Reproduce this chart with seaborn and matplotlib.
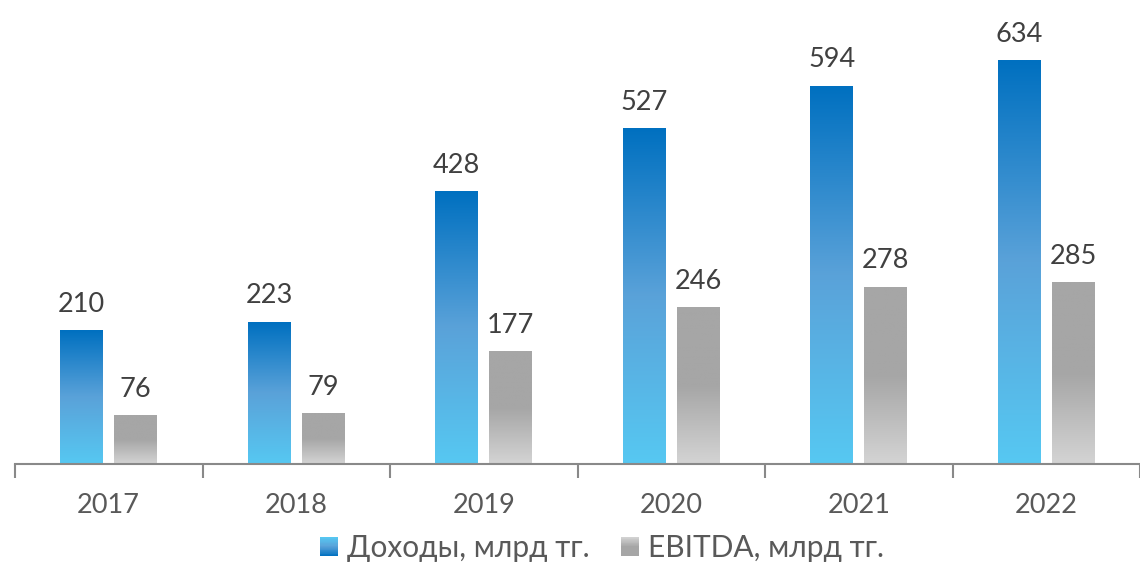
import numpy as np
import matplotlib
matplotlib.use('Agg')
import matplotlib.pyplot as plt
import seaborn as sns
import pandas as pd
from matplotlib.colors import LinearSegmentedColormap
from matplotlib.patches import Rectangle, Patch
from matplotlib.legend_handler import HandlerBase

years = ['2017', '2018', '2019', '2020', '2021', '2022']
revenue = [210, 223, 428, 527, 594, 634]
ebitda = [76, 79, 177, 246, 278, 285]
series_names = ['Доходы, млрд тг.', 'EBITDA, млрд тг.']

df = pd.DataFrame({
    'year': years * 2,
    'value': revenue + ebitda,
    'series': [series_names[0]] * len(years) + [series_names[1]] * len(years),
})

sns.set_theme(style='white')
plt.rcParams['font.family'] = ['Lato', 'DejaVu Sans']

blue_cmap = LinearSegmentedColormap.from_list(
    'blue', [(0.0, '#56C8F2'), (0.5, '#5AA2D9'), (1.0, '#0070C0')])
gray_cmap = LinearSegmentedColormap.from_list(
    'gray', [(0.0, '#D4D4D4'), (0.5, '#A6A6A6'), (1.0, '#A6A6A6')])
cmaps = [blue_cmap, gray_cmap]

fig = plt.figure(figsize=(11.4, 5.62), dpi=100)
ax = fig.add_axes([15 / 1140, 1 - 464 / 562, 1125 / 1140, 445 / 562])

sns.barplot(data=df, x='year', y='value', hue='series',
            palette=['#2E8BD0', '#A9A9A9'], width=0.576, gap=0.205,
            ax=ax, legend=False, errorbar=None)

grad = np.linspace(0, 1, 256).reshape(-1, 1)
for cont, cmap in zip(ax.containers, cmaps):
    for p in cont.patches:
        x0, w, h = p.get_x(), p.get_width(), p.get_height()
        ax.imshow(grad, extent=[x0, x0 + w, 0, h], aspect='auto',
                  cmap=cmap, origin='lower', zorder=2)
        p.set_facecolor('none')
        p.set_edgecolor('none')
    ax.bar_label(cont, padding=10, fontsize=19.5, color='#404040')

ax.set_xlim(-0.5, 5.5)
ax.set_ylim(0, 700)

for s in ['left', 'top', 'right']:
    ax.spines[s].set_visible(False)
ax.spines['bottom'].set_color('#898989')
ax.spines['bottom'].set_linewidth(1.5)
ax.set_yticks([])
ax.set_xlabel('')
ax.set_ylabel('')
ax.set_xticks(range(len(years)))
ax.set_xticklabels(years)
ax.set_xticks(np.arange(-0.5, len(years), 1), minor=True)
ax.tick_params(axis='x', which='major', length=0, pad=21,
               labelsize=19.5, labelcolor='#595959')
ax.tick_params(axis='x', which='minor', length=10, width=1.5,
               color='#898989', direction='out', bottom=True)


class GradHandler(HandlerBase):
    def __init__(self, cmap):
        super().__init__()
        self.cmap = cmap

    def create_artists(self, legend, orig_handle, xdescent, ydescent,
                       width, height, fontsize, trans):
        n = 24
        arts = []
        for i in range(n):
            frac = 1 - (i + 0.5) / n
            y = -ydescent + height * i / n
            r = Rectangle((-xdescent, y), width, height / n * 1.05,
                          facecolor=self.cmap(frac), edgecolor='none',
                          transform=trans)
            arts.append(r)
        return arts


h1, h2 = Patch(), Patch()
leg = fig.legend([h1, h2], series_names,
                 handler_map={h1: GradHandler(blue_cmap), h2: GradHandler(gray_cmap)},
                 loc='center', bbox_to_anchor=(602 / 1140, 1 - 548 / 562),
                 ncol=2, frameon=False, fontsize=21.5,
                 handlelength=0.6, handleheight=0.6, handletextpad=0.3,
                 columnspacing=1.05, labelcolor='#595959')

fig.savefig('out.png', dpi=100)
